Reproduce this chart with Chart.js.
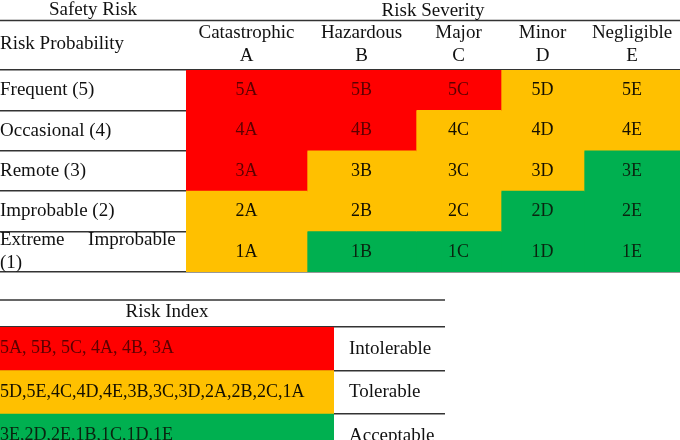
<!DOCTYPE html>
<html lang="en">
  <head>
    <meta charset="UTF-8" />
    <meta name="viewport" content="width=device-width, initial-scale=1.0" />
    <script src="https://cdn.jsdelivr.net/npm/chart.js"></script>
    <title>Safety Risk Matrix</title>
    <style>
      html, body { margin: 0; padding: 0; background: #fff; overflow: hidden; }
      #wrap { position: relative; width: 680px; height: 440px; overflow: hidden; }
      #matrixBox { position: absolute; left: 0; top: 0; width: 680px; height: 276px; }
      #indexBox { position: absolute; left: 0; top: 296px; width: 445px; height: 165px; }
    </style>
  </head>
  <body>
    <div id="wrap">
      <div id="matrixBox"><canvas id="matrix"></canvas></div>
      <div id="indexBox"><canvas id="index"></canvas></div>
    </div>
  </body>
</html>
<script>
  // table content
  const probabilities = [
    "Frequent (5)",
    "Occasional (4)",
    "Remote (3)",
    "Improbable (2)",
    ["Extreme     Improbable", "(1)"],
  ];
  const probabilityCodes = ["5", "4", "3", "2", "1"];
  const severities = ["Catastrophic", "Hazardous", "Major", "Minor", "Negligible"];
  const severityCodes = ["A", "B", "C", "D", "E"];
  // 0 = intolerable, 1 = tolerable, 2 = acceptable (rows 5..1, columns A..E)
  const riskClass = [
    [0, 0, 0, 1, 1],
    [0, 0, 1, 1, 1],
    [0, 1, 1, 1, 2],
    [1, 1, 1, 2, 2],
    [1, 2, 2, 2, 2],
  ];
  const riskLevels = ["Intolerable", "Tolerable", "Acceptable"];
  const riskIndex = [
    "5A, 5B, 5C, 4A, 4B, 3A",
    "5D,5E,4C,4D,4E,3B,3C,3D,2A,2B,2C,1A",
    "3E,2D,2E,1B,1C,1D,1E",
  ];

  // layout / style
  const colWidths = [121, 109, 85, 83, 96]; // matrix columns, px
  const labelColWidth = 186;
  const indexColWidth = 334;
  const levelColWidth = 111;
  const fills = ["#ff0000", "#ffc000", "#00b050"];
  const inks = ["#5c0000", "#151000", "#0a2410"];
  const lineColor = "#333333";
  const serif = "'Liberation Serif', 'Times New Roman', serif";

  Chart.defaults.font.family = serif;
  Chart.defaults.color = "#111";

  const edges = [0];
  colWidths.forEach((w) => edges.push(edges[edges.length - 1] + w));

  // writes the cell codes inside each bar
  const cellText = {
    id: "cellText",
    afterDatasetsDraw(chart) {
      const ctx = chart.ctx;
      chart.data.datasets.forEach((ds, i) => {
        if (!ds.texts) return;
        chart.getDatasetMeta(i).data.forEach((bar, j) => {
          const left = Math.min(bar.x, bar.base);
          const right = Math.max(bar.x, bar.base);
          ctx.save();
          ctx.font = ds.textFont;
          ctx.fillStyle = ds.textColors[j];
          ctx.textBaseline = "middle";
          ctx.textAlign = ds.textAlign || "center";
          const x = ds.textAlign === "left" ? left + (ds.textPad || 0) : (left + right) / 2;
          ctx.fillText(ds.texts[j], x, bar.y);
          ctx.restore();
        });
      });
    },
  };

  // top rule of each table, plus the captions of the label column
  const headerRule = {
    id: "headerRule",
    afterDraw(chart, args, opts) {
      const ctx = chart.ctx;
      ctx.save();
      ctx.strokeStyle = lineColor;
      ctx.lineWidth = 1.5;
      ctx.beginPath();
      ctx.moveTo(0, opts.y);
      ctx.lineTo(chart.width, opts.y);
      ctx.stroke();
      ctx.font = "19px " + serif;
      ctx.fillStyle = "#111";
      ctx.textBaseline = "middle";
      if (opts.text) {
        const ys = chart.scales.y;
        ctx.textAlign = "center";
        ctx.fillText(opts.text, (ys.left + ys.right) / 2, opts.textY);
      }
      if (opts.rowTitle) {
        ctx.textAlign = "left";
        ctx.fillText(opts.rowTitle, chart.scales.y.left, opts.rowTitleY);
      }
      ctx.restore();
    },
  };

  const matrixSets = severities.map((name, j) => ({
    label: name,
    data: probabilities.map(() => [edges[j], edges[j + 1]]),
    backgroundColor: riskClass.map((row) => fills[row[j]]),
    texts: probabilityCodes.map((p) => p + severityCodes[j]),
    textColors: riskClass.map((row) => inks[row[j]]),
    textFont: "18px " + serif,
    grouped: false,
    categoryPercentage: 1,
    barPercentage: 1,
    borderWidth: 0,
  }));

  new Chart(document.getElementById("matrix"), {
    type: "bar",
    data: { labels: probabilities, datasets: matrixSets },
    options: {
      indexAxis: "y",
      animation: false,
      responsive: true,
      maintainAspectRatio: false,
      layout: { padding: { bottom: 4 } },
      plugins: {
        legend: { display: false },
        tooltip: { enabled: false },
        headerRule: {
          y: 20.5,
          text: "Safety Risk",
          textY: 10,
          rowTitle: "Risk Probability",
          rowTitleY: 44,
        },
      },
      scales: {
        x: {
          type: "linear",
          position: "top",
          min: 0,
          max: edges[edges.length - 1],
          grid: { display: false, drawTicks: false },
          border: { display: false },
          ticks: {
            autoSkip: false,
            maxRotation: 0,
            padding: 3,
            font: { size: 19 },
            callback: (v, i) => [severities[i], severityCodes[i]],
          },
          afterBuildTicks(scale) {
            scale.ticks = severities.map((s, j) => ({ value: (edges[j] + edges[j + 1]) / 2 }));
          },
          title: { display: true, text: "Risk Severity", font: { size: 19 }, padding: 0 },
          afterFit(scale) {
            scale.height = 70;
            scale.paddingLeft = 0;
            scale.paddingRight = 0;
          },
        },
        y: {
          position: "left",
          z: 1,
          grid: {
            offset: true,
            color: lineColor,
            lineWidth: 1.5,
            tickLength: labelColWidth,
            tickColor: lineColor,
            tickWidth: 1.5,
          },
          border: { display: false },
          ticks: { crossAlign: "far", padding: 0, autoSkip: false, font: { size: 19 } },
          afterFit(scale) {
            scale.width = labelColWidth;
            scale.paddingTop = 0;
            scale.paddingBottom = 0;
          },
        },
      },
    },
    plugins: [cellText, headerRule],
  });

  new Chart(document.getElementById("index"), {
    type: "bar",
    data: {
      labels: riskLevels,
      datasets: [
        {
          label: "Risk Index",
          data: riskLevels.map(() => [0, indexColWidth]),
          backgroundColor: fills,
          texts: riskIndex,
          textColors: inks,
          textFont: "18px " + serif,
          textAlign: "left",
          textPad: 0,
          categoryPercentage: 1,
          barPercentage: 1,
          borderWidth: 0,
        },
      ],
    },
    options: {
      indexAxis: "y",
      animation: false,
      responsive: true,
      maintainAspectRatio: false,
      layout: { padding: { bottom: 3.5 } },
      plugins: {
        legend: { display: false },
        tooltip: { enabled: false },
        headerRule: { y: 4 },
      },
      scales: {
        x: {
          type: "linear",
          position: "top",
          min: 0,
          max: indexColWidth,
          grid: { display: false, drawTicks: false },
          border: { display: false },
          ticks: { display: false },
          title: { display: true, text: "Risk Index", font: { size: 19 }, padding: { top: 5, bottom: 0 } },
          afterFit(scale) {
            scale.height = 31;
            scale.paddingLeft = 0;
            scale.paddingRight = 0;
          },
        },
        y: {
          position: "right",
          z: 1,
          grid: {
            offset: true,
            color: lineColor,
            lineWidth: 1.5,
            tickLength: levelColWidth,
            tickColor: lineColor,
            tickWidth: 1.5,
          },
          border: { display: false },
          ticks: { crossAlign: "near", padding: 15 - levelColWidth, autoSkip: false, font: { size: 19 } },
          afterFit(scale) {
            scale.width = levelColWidth;
            scale.paddingTop = 0;
            scale.paddingBottom = 0;
          },
        },
      },
    },
    plugins: [cellText, headerRule],
  });
</script>
